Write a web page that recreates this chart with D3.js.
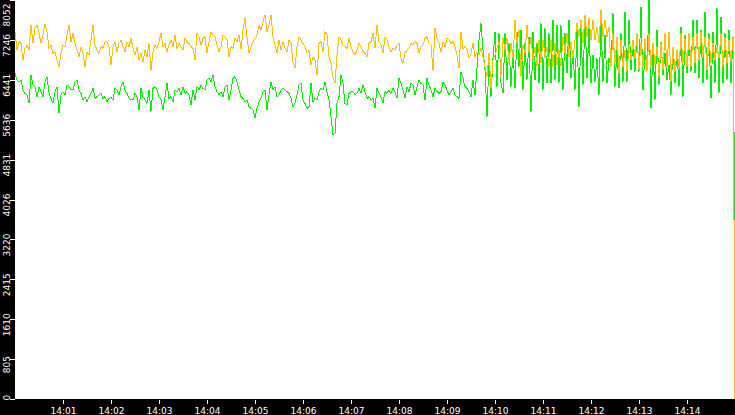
<!DOCTYPE html>
<html lang="en">
<head>
    <meta charset="UTF-8">
    <title>Chart</title>
    <style>
        body {
            margin: 0;
            background: #fff;
        }

        svg {
            display: block;
        }

        text {
            font-family: "DejaVu Sans", sans-serif;
            font-size: 9px;
            fill: #fff;
        }
    </style>
</head>

<body>
    <div id="chart"></div>

    <script src="https://cdn.jsdelivr.net/npm/d3@7"></script>
    <script>
        // one sample every 2.5 s from 14:00:00
        const startLabel = '14:00:00'
        const endLabel = '14:15:00'
        const sampleSeconds = 2.5

        const orangeValues = [
            7413, 7043, 7211, 7177, 6841, 7076, 7144, 7043, 7547, 7177,
            7480, 7547, 7379, 7177, 7345, 7567, 7413, 7076, 7144, 6975,
            7009, 6841, 6706, 6975, 7144, 7110, 7345, 7547, 7211, 7379,
            7177, 7043, 6908, 7110, 6975, 6706, 7009, 6942, 7245, 7547,
            7144, 7043, 6975, 7110, 7076, 7211, 7211, 7110, 6740, 7110,
            7211, 7009, 7177, 7245, 7110, 7009, 7211, 7110, 7278, 7076,
            6942, 7110, 6841, 6975, 6807, 7043, 6908, 7177, 6639, 7009,
            7144, 7076, 7211, 7379, 7110, 7177, 7009, 7144, 7245, 7110,
            7345, 7076, 7177, 7110, 7043, 7278, 7211, 7177, 7110, 7076,
            6841, 7379, 7312, 7144, 7278, 7312, 6989, 7211, 7413, 7345,
            7312, 7144, 7009, 7110, 7345, 7312, 7245, 6908, 7110, 7076,
            7278, 7211, 7345, 7056, 7446, 7682, 7312, 6975, 7110, 7211,
            7278, 7345, 7547, 7446, 7615, 7749, 7413, 7547, 7749, 7312,
            7144, 6975, 7245, 7043, 7211, 7076, 7009, 7245, 7177, 6807,
            6673, 7110, 7312, 7245, 7177, 7110, 6975, 7043, 6740, 6908,
            6841, 6538, 7177, 7211, 7009, 7413, 7345, 6908, 6774, 6471,
            6370, 6942, 7312, 7245, 7144, 7110, 7076, 7278, 7110, 7009,
            6942, 7043, 7177, 7110, 7009, 6975, 6908, 7177, 7211, 7379,
            7076, 7547, 7211, 7144, 6975, 7312, 7245, 7110, 7009, 7076,
            7043, 7144, 7177, 6875, 6774, 6975, 7043, 7076, 7177, 7144,
            7211, 7177, 6975, 7110, 7144, 7278, 7312, 7177, 7144, 6639,
            7480, 7278, 7177, 7009, 7211, 7110, 7278, 7245, 7177, 7211,
            7110, 6942, 6673, 7413, 7076, 7110, 7043, 6875, 6975, 7177,
            6908, 7009, 6942, 7076, 6908, 6706, 6505, 6975, 6269, 6841,
            6942, 7077, 7211, 6505, 7278, 7043, 7278, 6774, 7178, 6875,
            7648, 7178, 7447, 6505, 7144, 6976, 7547, 7009, 7312, 6841,
            7110, 6707, 7245, 6774, 7245, 6908, 7110, 6707, 7245, 6707,
            7178, 6740, 7043, 6707, 7312, 6976, 7379, 6908, 7211, 6875,
            7245, 7581, 7312, 7648, 7178, 7749, 7312, 7682, 7245, 7648,
            7245, 7514, 7178, 7850, 7312, 7648, 7312, 7514, 6707, 7379,
            6774, 7312, 6572, 7245, 6707, 7043, 6606, 7110, 6841, 7245,
            6875, 7379, 6639, 7178, 6707, 7278, 6606, 7379, 6707, 7178,
            6740, 7110, 6505, 7178, 6639, 7379, 6707, 7413, 6404, 7110,
            6606, 7043, 6673, 7379, 6774, 7278, 6707, 7379, 6707, 7312,
            6774, 7379, 6841, 7413, 6942, 7312, 6639, 7278, 6774, 7178,
            6841, 7110, 6875, 7379, 6707, 7312, 6774, 7245, 6808, 7278,
            0
        ]

        const greenValues = [
            6572, 6437, 6404, 6437, 6236, 6168, 6135, 5966, 6538, 6336,
            6303, 6101, 6303, 6202, 6101, 6404, 6505, 6168, 6067, 5966,
            6202, 6303, 5765, 6135, 6202, 6135, 6336, 6303, 6236, 6236,
            6404, 6437, 6236, 6168, 6034, 6101, 6000, 6101, 6168, 6269,
            6067, 6101, 6135, 6168, 6067, 6101, 6000, 6067, 6088, 6034,
            6269, 6236, 6135, 6303, 6404, 6236, 6168, 6067, 6034, 6034,
            6168, 6101, 5832, 6269, 6101, 6034, 5966, 6236, 5798, 6269,
            6303, 6236, 6101, 6034, 5832, 6101, 6370, 6067, 6101, 6000,
            6236, 6202, 6269, 6135, 6303, 6168, 6202, 6135, 5933, 6236,
            6034, 6303, 6236, 6336, 6269, 6236, 6437, 6471, 6404, 6538,
            6303, 6202, 6135, 6202, 6101, 6303, 6336, 6034, 6236, 6471,
            6505, 6404, 6236, 6101, 6067, 6000, 6034, 5899, 5866, 5832,
            5664, 5866, 6000, 6067, 6202, 6236, 5832, 6135, 6404, 6236,
            6303, 6101, 6135, 6236, 6269, 6236, 6202, 6168, 6067, 5899,
            5966, 6135, 6336, 6370, 6034, 5966, 5866, 5899, 6370, 6000,
            6067, 6034, 6202, 6269, 6236, 6404, 6202, 6034, 5697, 5327,
            5361, 5966, 6101, 6538, 6370, 5966, 5933, 6168, 6202, 6202,
            6135, 6168, 6269, 6168, 6336, 6202, 6067, 6101, 6034, 6067,
            5866, 6269, 6168, 6101, 5966, 6202, 6168, 6236, 6168, 6269,
            6202, 6067, 6471, 6370, 6236, 6067, 6303, 6202, 6370, 6336,
            6135, 6303, 6437, 6370, 6336, 6034, 6471, 6336, 6236, 6101,
            6269, 6202, 6168, 6202, 6404, 6336, 6236, 6135, 6202, 6269,
            6135, 6101, 6067, 6606, 6471, 6303, 6269, 6202, 6101, 6437,
            6135, 6673, 7245, 7581, 7043, 6639, 5697, 6908, 6101, 6875,
            7413, 6303, 7379, 6370, 6168, 7379, 6438, 7178, 6303, 7043,
            6269, 7413, 6707, 7447, 6236, 7178, 6438, 7312, 5798, 7413,
            6438, 7178, 6370, 7581, 6236, 7480, 6370, 7379, 6370, 7648,
            6438, 7547, 6370, 7547, 6236, 7379, 6572, 7648, 6471, 7043,
            6236, 7514, 5899, 7480, 6337, 7749, 6471, 7480, 6370, 6942,
            6404, 6875, 6135, 7648, 6404, 7346, 6370, 6875, 6707, 7783,
            6303, 7077, 6269, 7379, 6404, 7817, 6404, 7648, 6639, 7211,
            6606, 7379, 6606, 7917, 6236, 7043, 6639, 8052, 5866, 7178,
            6034, 7447, 6337, 7211, 6538, 6976, 6438, 6740, 6135, 7110,
            6370, 7043, 6303, 7514, 6101, 7346, 6572, 7245, 6606, 7648,
            6572, 7648, 6471, 7447, 6370, 7817, 6438, 7379, 6068, 7413,
            6370, 7884, 6168, 7716, 6370, 7379, 6438, 7447, 6370, 7312,
            3500
        ]

        const yTickLabels = [0, 805, 1610, 2415, 3220, 4026, 4831, 5636, 6441, 7246, 8052]
        const xTickLabels = ['14:01', '14:02', '14:03', '14:04', '14:05', '14:06', '14:07',
            '14:08', '14:09', '14:10', '14:11', '14:12', '14:13', '14:14']

        const width = 735
        const height = 415
        const margin = { top: 0, right: 0, bottom: 16, left: 15 }

        const parseHMS = d3.timeParse('%H:%M:%S')
        const parseHM = d3.timeParse('%H:%M')
        const startTime = parseHMS(startLabel)
        const endTime = parseHMS(endLabel)
        const times = orangeValues.map((_, i) => new Date(+startTime + i * sampleSeconds * 1000))

        const svg = d3.select('#chart')
            .append('svg')
            .attr('width', width)
            .attr('height', height)

        svg.append('rect')
            .attr('width', width)
            .attr('height', height)
            .attr('fill', '#fff')

        const xScale = d3.scaleTime()
            .domain([startTime, endTime])
            .range([margin.left, width - margin.right])

        const yScale = d3.scaleLinear()
            .domain([0, d3.max(yTickLabels)])
            .range([height - margin.bottom, margin.top])

        // green under, orange on top
        drawLine(greenValues, '#00f000')
        drawLine(orangeValues, '#ffc000')
        drawFrame()
        drawAxis()

        function drawLine(values, color) {
            const line = d3.line()
                .x((d, i) => xScale(times[i]))
                .y(d => yScale(d))

            svg.append('path')
                .datum(values)
                .attr('fill', 'none')
                .attr('stroke', color)
                .attr('stroke-width', 1)
                .attr('shape-rendering', 'crispEdges')
                .attr('d', line)
        }

        function drawFrame() {
            svg.append('rect')
                .attr('x', 0)
                .attr('y', 0)
                .attr('width', margin.left)
                .attr('height', height)
                .attr('fill', '#000')
            svg.append('rect')
                .attr('x', 0)
                .attr('y', height - margin.bottom)
                .attr('width', width)
                .attr('height', margin.bottom)
                .attr('fill', '#000')
        }

        function drawAxis() {
            const xAxis = d3.axisBottom(xScale)
                .tickValues(xTickLabels.map(parseHM))
                .tickFormat(d3.timeFormat('%H:%M'))
                .tickSize(4)
                .tickPadding(4)

            const gx = svg.append('g')
                .attr('transform', `translate(0, ${height - margin.bottom + 1})`)
                .call(xAxis)
            gx.select('.domain').remove()
            gx.selectAll('line')
                .attr('stroke', '#fff')
                .attr('shape-rendering', 'crispEdges')
            gx.selectAll('text')
                .attr('fill', '#fff')
                .style('font-family', '"DejaVu Sans", sans-serif')
                .style('font-size', '9px')

            const yAxis = d3.axisLeft(yScale)
                .tickValues(yTickLabels)
                .tickFormat(d => d)
                .tickSize(5)

            const gy = svg.append('g')
                .attr('transform', `translate(${margin.left}, 0)`)
                .call(yAxis)
            gy.select('.domain').remove()
            gy.selectAll('line')
                .attr('stroke', '#fff')
                .attr('shape-rendering', 'crispEdges')

            const bottom = height - margin.bottom + 1
            gy.selectAll('text')
                .attr('fill', '#fff')
                .style('font-family', '"DejaVu Sans", sans-serif')
                .style('font-size', '9px')
                .attr('x', 0)
                .attr('dy', null)
                .attr('text-anchor', 'middle')
                .each(function (d) {
                    const half = this.getComputedTextLength() / 2
                    const ty = yScale(d)
                    const c = Math.max(3 + half, Math.min(bottom - half, ty + 5))
                    d3.select(this).attr('transform', `translate(-5.5, ${c - ty}) rotate(-90)`)
                })
        }
    </script>
</body>
</html>
